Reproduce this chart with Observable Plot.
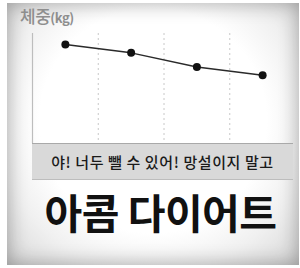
<!DOCTYPE html>
<html>
<head>
<meta charset="utf-8">
<script src="https://cdn.jsdelivr.net/npm/d3@7"></script>
<script src="https://cdn.jsdelivr.net/npm/@observablehq/plot@0.6"></script>
<style>
  html, body { margin: 0; padding: 0; background: #fff; }
  #wrap { position: relative; width: 300px; height: 268px; overflow: hidden; background: #fff; }
  #frame { position: absolute; left: 7px; top: 3px; width: 292px; height: 262px;
    background: radial-gradient(ellipse at 50% 45%, #ffffff 55%, #f0f0f0 75%, #d6d6d6 100%);
    box-shadow: inset 0 0 20px rgba(0,0,0,0.32); }
  #chart { position: absolute; left: 0; top: 0; }
  #ylabel { position: absolute; left: 20px; top: 3px; font-family: "Noto Sans CJK KR", sans-serif;
    font-weight: 500; font-size: 17px; color: #8e8e8e; letter-spacing: -0.5px; }
  #ylabel small { font-size: 13px; font-weight: 700; letter-spacing: -0.5px; }
  #band { position: absolute; left: 32px; top: 143px; width: 261px; height: 35px;
    background: #d9d9d9; border-top: 1px solid #a9a9a9; border-bottom: 1px solid #bdbdbd;
    display: flex; align-items: center; justify-content: center;
    font-family: "Noto Sans CJK KR", sans-serif; font-weight: 500; font-size: 15px; color: #1a1a1a; letter-spacing: 0.6px; }
  #title { position: absolute; left: 0; width: 321px; top: 187px; text-align: center;
    font-family: "Noto Sans CJK KR", sans-serif; font-weight: 700; font-size: 41px; line-height: 48px;
    color: #111; letter-spacing: -0.5px; }
</style>
</head>
<body>
<div id="wrap">
  <div id="frame"></div>
  <div id="chart"></div>
  <div id="ylabel">체중<small>(kg)</small></div>
  <div id="band">야! 너두 뺄 수 있어! 망설이지 말고</div>
  <div id="title">아콤 다이어트</div>
</div>
<script>
const weeks = ["1주", "2주", "3주", "4주"];
const weights = [82.5, 80.6, 77.4, 75.5];
const dividers = [0.5, 1.5, 2.5];

const data = weeks.map((w, i) => ({week: w, idx: i, weight: weights[i]}));

const chart = Plot.plot({
  width: 300,
  height: 180,
  marginTop: 33,
  marginBottom: 37,
  marginLeft: 32,
  marginRight: 5,
  style: {background: "transparent", overflow: "visible"},
  x: {type: "linear", domain: [-0.5, weeks.length - 0.5], axis: null},
  y: {domain: [60, 85], axis: null},
  marks: [
    Plot.ruleX(dividers, {stroke: "#c8c8c8", strokeWidth: 1, strokeDasharray: "2,3"}),
    Plot.ruleX([-0.5], {stroke: "#bdbdbd", strokeWidth: 1.2}),
    Plot.line(data, {x: "idx", y: "weight", stroke: "#2a2a2a", strokeWidth: 1.5}),
    Plot.dot(data, {x: "idx", y: "weight", r: 4, fill: "#111", stroke: "none"})
  ]
});
document.getElementById("chart").appendChild(chart);
</script>
</body>
</html>
